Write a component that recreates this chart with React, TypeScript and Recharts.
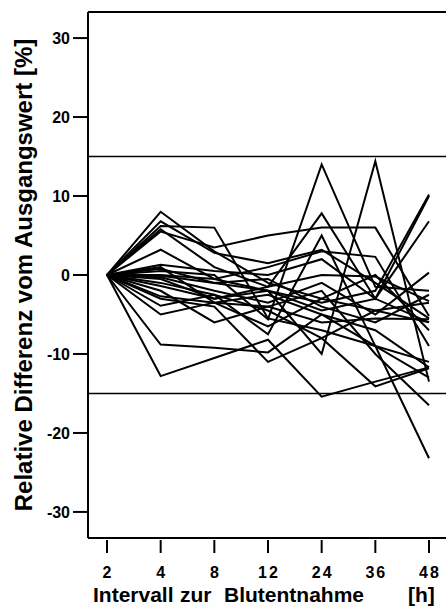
import { LineChart, Line, XAxis, YAxis, ReferenceLine } from "recharts";

const hours = ["2", "4", "8", "12", "24", "36", "48"];
const yTicks = [-30, -20, -10, 0, 10, 20, 30];
const limits = [15, -15];

// relative change per patient, one array per patient
const p01 = [0, 8.0, 3.0, -1.0, -3.0, -4.5, -6.0];
const p02 = [0, 6.2, 6.0, -5.5, -7.0, -9.0, -11.0];
const p03 = [0, 6.8, 2.8, 1.5, 3.2, -1.0, -5.5];
const p04 = [0, 5.5, 3.5, 5.0, 6.0, 6.0, -5.2];
const p05 = [0, 5.8, 1.0, -1.5, 7.8, -3.0, 6.8];
const p06 = [0, 3.2, -0.5, -2.0, -3.5, -2.0, 10.2];
const p07 = [0, 1.3, 0.5, 0.0, 2.0, -3.0, 10.0];
const p08 = [0, 0.5, 0.0, -5.6, 14.0, -1.5, -2.0];
const p09 = [0, 0.0, -0.5, 1.0, 3.0, 2.3, -9.0];
const p10 = [0, -0.1, -1.0, -2.0, -10.0, 14.4, -13.5];
const p11 = [0, -0.3, -2.0, -3.5, -1.0, -5.0, 0.3];
const p12 = [0, -1.4, -3.0, -1.5, 0.0, -0.2, -3.3];
const p13 = [0, -2.7, -3.5, -4.0, -6.0, -5.5, -5.6];
const p14 = [0, -3.9, -2.5, -4.5, -8.0, -4.5, -3.5];
const p15 = [0, -5.0, -3.5, -2.5, -5.0, -7.0, -11.7];
const p16 = [0, -8.8, -9.2, -9.8, -5.0, -9.0, -23.2];
const p17 = [0, -12.8, -10.5, -8.2, -15.4, -13.5, -11.7];
const p18 = [0, -2.0, -6.0, -4.0, -2.0, -10.0, -16.5];
const p19 = [0, -3.0, -4.0, -11.0, -8.0, -14.1, -11.8];
const p20 = [0, 0.8, -1.0, -0.5, -4.0, -6.0, -2.5];
const p21 = [0, 1.0, -3.5, -6.5, -3.0, 0.0, -7.0];
const p22 = [0, -1.0, -2.5, -7.5, 5.0, -9.0, -13.0];
const p23 = [0, -0.5, -3.0, -2.0, -4.5, -3.0, -6.0];

const patients = [
  p01, p02, p03, p04, p05, p06, p07, p08, p09, p10, p11, p12,
  p13, p14, p15, p16, p17, p18, p19, p20, p21, p22, p23,
];

const rows = hours.map((h, i) => {
  const row: Record<string, string | number> = { hour: h };
  patients.forEach((p, k) => {
    row["p" + k] = p[i];
  });
  return row;
});

const FONT = "'Liberation Sans', Arial, Helvetica, sans-serif";

function HourTick(props: any) {
  const { x, y, payload } = props;
  return (
    <g>
      <line x1={x} x2={x} y1={y + 2} y2={y + 15} stroke="#000" strokeWidth={2} />
      <text
        x={x + 1}
        y={y + 40}
        textAnchor="middle"
        fontSize={16}
        fontWeight="bold"
        fontFamily={FONT}
        letterSpacing={2}
        fill="#000"
      >
        {payload.value}
      </text>
    </g>
  );
}

function XTitle() {
  return (
    <text y={602} fontSize={21} fontWeight="bold" fontFamily={FONT} fill="#000">
      <tspan x={93}>Intervall</tspan>
      <tspan x={180}>zur</tspan>
      <tspan x={224}>Blutentnahme</tspan>
      <tspan x={408}>[h]</tspan>
    </text>
  );
}

function YTitle() {
  return (
    <text
      x={32}
      y={275}
      transform="rotate(-90 32 275)"
      textAnchor="middle"
      fontSize={24}
      fontWeight="bold"
      fontFamily={FONT}
      fill="#000"
    >
      Relative Differenz vom Ausgangswert [%]
    </text>
  );
}

export default function App() {
  return (
    <div style={{ position: "absolute", left: 0, top: 0, background: "#fff" }}>
      <LineChart
        width={446}
        height={608}
        data={rows}
        margin={{ top: 12, right: 0, bottom: 0, left: 0 }}
      >
        <XAxis
          dataKey="hour"
          type="category"
          padding={{ left: 19, right: 17 }}
          height={70}
          axisLine={{ stroke: "#000", strokeWidth: 2 }}
          tickLine={false}
          tickSize={0}
          tickMargin={0}
          tick={<HourTick />}
          interval={0}
          label={() => <XTitle />}
        />
        <YAxis
          type="number"
          domain={[-33.3, 33.3]}
          ticks={yTicks}
          allowDataOverflow
          width={88}
          axisLine={{ stroke: "#000", strokeWidth: 2 }}
          tickLine={{ stroke: "#000", strokeWidth: 2 }}
          tickSize={15}
          tickMargin={3}
          tick={{ fill: "#000", fontSize: 16, fontWeight: "bold", fontFamily: FONT }}
          label={() => <YTitle />}
        />
        <ReferenceLine y={33.3} stroke="#000" strokeWidth={2} />
        {limits.map((v) => (
          <ReferenceLine key={v} y={v} stroke="#000" strokeWidth={1.5} />
        ))}
        {patients.map((_, k) => (
          <Line
            key={k}
            dataKey={"p" + k}
            type="linear"
            stroke="#000"
            strokeWidth={2}
            dot={false}
            activeDot={false}
            isAnimationActive={false}
          />
        ))}
      </LineChart>
    </div>
  );
}
